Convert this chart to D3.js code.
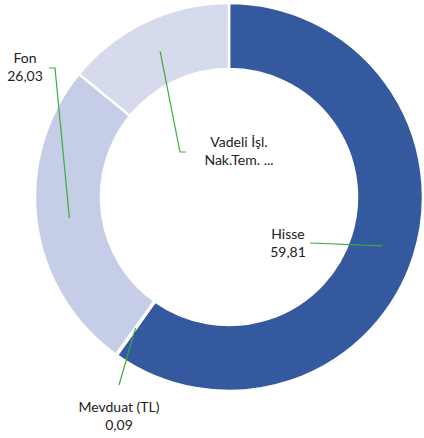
<!DOCTYPE html>
<html>
<head>
<meta charset="utf-8">
<script src="https://cdn.jsdelivr.net/npm/d3@7"></script>
<style>
  body { margin: 0; background: #fff; }
  text { font-family: Lato, "Open Sans", sans-serif; font-size: 14px; fill: #222; }
</style>
</head>
<body>
<svg width="424" height="438"></svg>
<script>
const categories = ["Hisse", "Mevduat (TL)", "Fon", "Vadeli İşl. Nak.Tem. ..."];
const values = [59.81, 0.09, 26.03, 14.07];
const labelLines = [["Hisse", "59,81"], ["Mevduat (TL)", "0,09"], ["Fon", "26,03"], ["Vadeli İşl.", "Nak.Tem. ..."]];
const colors = ["#34599e", "#8c9ccc", "#c6cde6", "#d5daed"];

// label anchor (text centre, first baseline) and where the leader leaves the text
const labelPos = [
  { x: 288, y: 239, lx: [310, 243] },
  { x: 119, y: 412, lx: [119, 385] },
  { x: 25, y: 63, lx: [49, 68], elbow: [55, 68] },
  { x: 239, y: 147, lx: [186, 152], elbow: [180, 152] }
];

const svg = d3.select("svg");
const cx = 229, cy = 197;
const outerR = 194, innerR = 128;

const g = svg.append("g").attr("transform", `translate(${cx},${cy})`);

const pie = d3.pie().sort(null).value((d) => d.value);
const data = categories.map((c, i) => ({ name: c, value: values[i], i }));
const arcs = pie(data);

const arc = d3.arc().innerRadius(innerR).outerRadius(outerR);
const mid = d3.arc().innerRadius((innerR + outerR) / 2).outerRadius((innerR + outerR) / 2);

g.selectAll("path.slice")
  .data(arcs)
  .enter()
  .append("path")
  .attr("class", "slice")
  .attr("d", arc)
  .attr("fill", (d) => colors[d.data.i])
  .attr("stroke", "#fff")
  .attr("stroke-width", 2.5)
  .attr("stroke-linejoin", "miter");

// leader lines
arcs.forEach((d) => {
  const p = labelPos[d.data.i];
  const c = mid.centroid(d);
  const pts = [[p.lx[0], p.lx[1]]];
  if (p.elbow) pts.push(p.elbow);
  pts.push([c[0] + cx, c[1] + cy]);
  svg.append("path")
    .attr("d", d3.line()(pts))
    .attr("fill", "none")
    .attr("stroke", "#38ad38")
    .attr("stroke-width", 1.2);
});

// labels
arcs.forEach((d) => {
  const p = labelPos[d.data.i];
  const t = svg.append("text").attr("text-anchor", "middle");
  labelLines[d.data.i].forEach((s, k) => {
    t.append("tspan").attr("x", p.x).attr("y", p.y + k * 18).text(s);
  });
});
</script>
</body>
</html>
